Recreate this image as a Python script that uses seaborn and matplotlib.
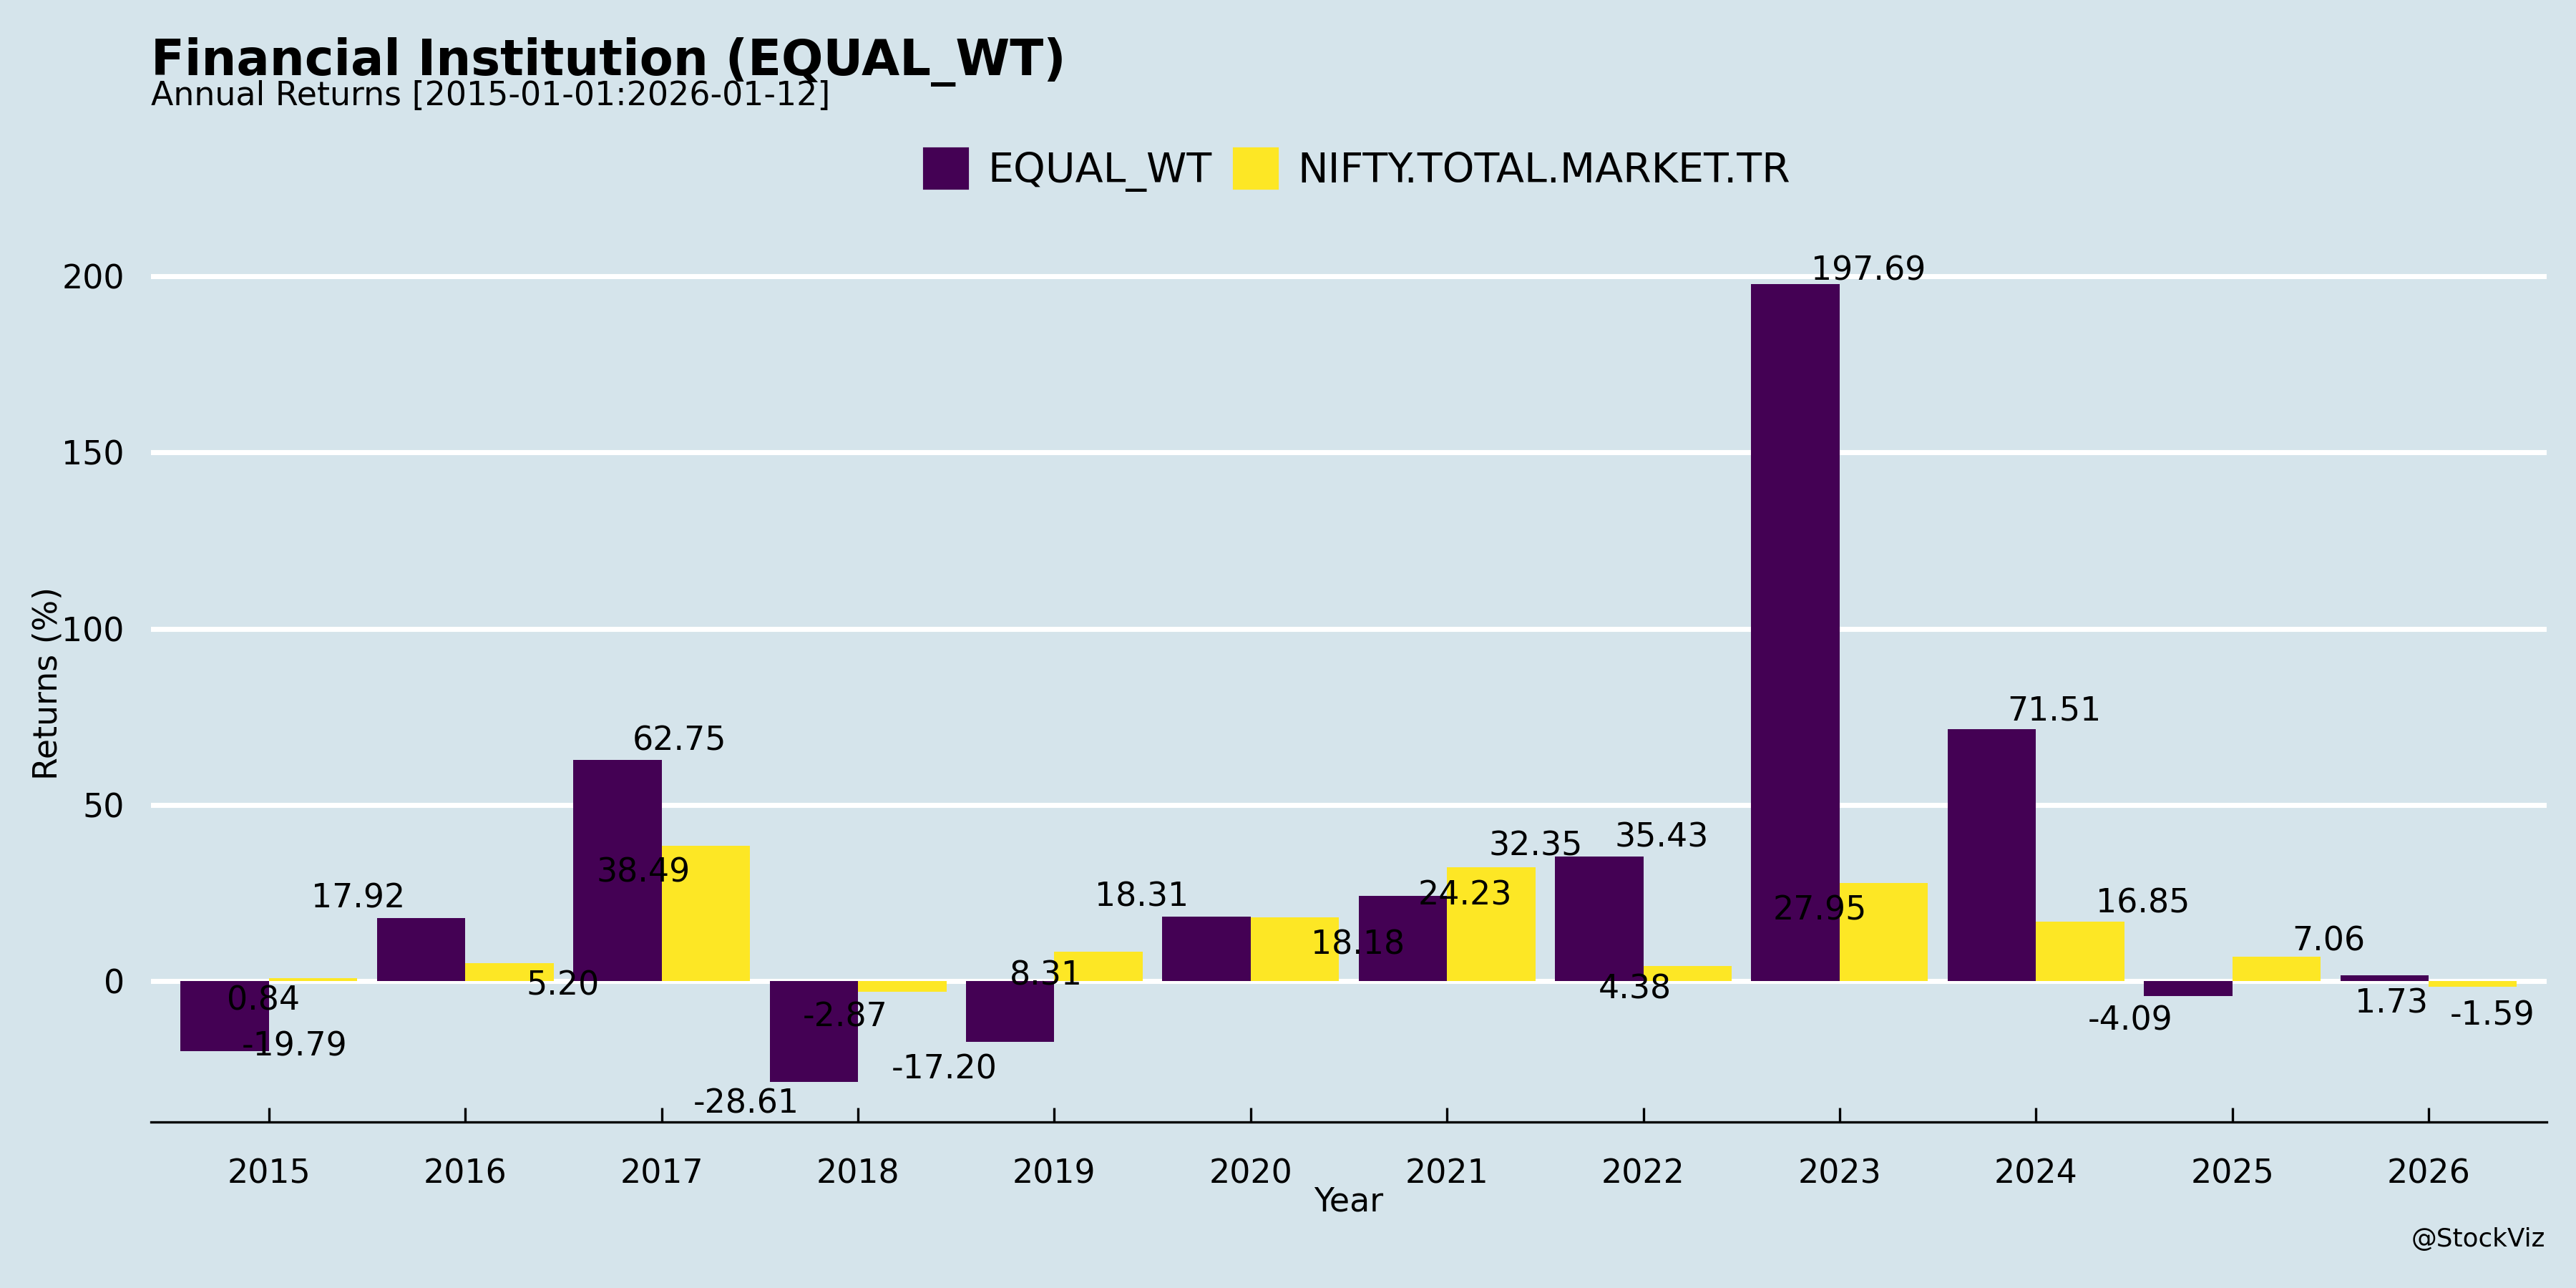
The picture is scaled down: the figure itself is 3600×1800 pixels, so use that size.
import matplotlib
matplotlib.use("Agg")
import matplotlib.pyplot as plt
import pandas as pd
import seaborn as sns

years = ["2015", "2016", "2017", "2018", "2019", "2020",
         "2021", "2022", "2023", "2024", "2025", "2026"]
equal_wt = [-19.79, 17.92, 62.75, -28.61, -17.20, 18.31,
            24.23, 35.43, 197.69, 71.51, -4.09, 1.73]
nifty_tmtr = [0.84, 5.20, 38.49, -2.87, 8.31, 18.18,
              32.35, 4.38, 27.95, 16.85, 7.06, -1.59]
series = ["EQUAL_WT", "NIFTY.TOTAL.MARKET.TR"]
colors = ["#440154", "#fde725"]

# label jitter (x in category units relative to bar centre, y in %)
eq_dx = [0.355, -0.32, 0.317, -0.344, -0.336, -0.328, 0.317, 0.317, 0.372, 0.317, -0.294, 0.036]
eq_dy = [1.2, 5.4, 5.35, -6.3, -7.9, 5.5, 0.0, 5.2, 3.7, 5.0, -7.1, -8.2]
nt_dx = [-0.255, 0.27, -0.317, -0.29, -0.267, 0.32, 0.227, -0.267, -0.325, 0.32, 0.266, 0.1]
nt_dy = [-6.4, -6.6, -7.7, -7.3, -6.9, -7.9, 5.9, -6.7, -7.9, 5.1, 4.2, -8.2]

df = pd.DataFrame({
    "Year": years * 2,
    "Returns": equal_wt + nifty_tmtr,
    "Series": [series[0]] * len(years) + [series[1]] * len(years),
})

bg = "#d5e4eb"
fig = plt.figure(figsize=(12, 6), dpi=300, facecolor=bg)
ax = fig.add_axes([0.0587, 0.1288, 0.9298, 0.6815])
ax.set_facecolor(bg)

sns.barplot(data=df, x="Year", y="Returns", hue="Series", hue_order=series,
            palette=colors, width=0.9, gap=0, saturation=1, ax=ax,
            errorbar=None, edgecolor="none", linewidth=0)

for i in range(len(years)):
    ax.text(i - 0.225 + eq_dx[i], equal_wt[i] + eq_dy[i], f"{equal_wt[i]:.2f}",
            ha="center", va="center", fontsize=11)
    ax.text(i + 0.225 + nt_dx[i], nifty_tmtr[i] + nt_dy[i], f"{nifty_tmtr[i]:.2f}",
            ha="center", va="center", fontsize=11)

ax.set_xlim(-0.6, 11.6)
ax.set_ylim(-39.93, 209.0)
ax.set_yticks([0, 50, 100, 150, 200])
ax.grid(axis="y", color="white", linewidth=1.7)
ax.grid(axis="x", visible=False)
ax.set_axisbelow(True)
for s in ["top", "left", "right"]:
    ax.spines[s].set_visible(False)
ax.spines["bottom"].set_color("black")
ax.spines["bottom"].set_linewidth(0.8)
ax.tick_params(axis="x", direction="in", length=4.8, width=0.8, pad=12, labelsize=11)
ax.tick_params(axis="y", length=0, pad=9, labelsize=11)

ax.set_xlabel("Year", fontsize=11)
ax.set_ylabel("Returns (%)", fontsize=11)
ax.xaxis.set_label_coords(0.5, -0.073)
ax.yaxis.set_label_coords(-0.0365, 0.5)

ax.get_legend().remove()
handles = [plt.Rectangle((0, 0), 1, 1, color=c) for c in colors]
fig.legend(handles, series, loc="center", bbox_to_anchor=(0.527, 0.868), ncol=2,
           frameon=False, fontsize=13.7, handlelength=1.05, handleheight=1.12,
           handletextpad=0.5, columnspacing=0.55)

fig.text(0.0587, 0.9417, "Financial Institution (EQUAL_WT)", fontsize=16.5,
         fontweight="bold", ha="left", va="baseline")
fig.text(0.0587, 0.9185, "Annual Returns [2015-01-01:2026-01-12]", fontsize=11,
         ha="left", va="baseline")
fig.text(0.988, 0.032, "@StockViz", fontsize=8.6, ha="right", va="baseline")

fig.savefig("out.png", dpi=300, facecolor=bg)
